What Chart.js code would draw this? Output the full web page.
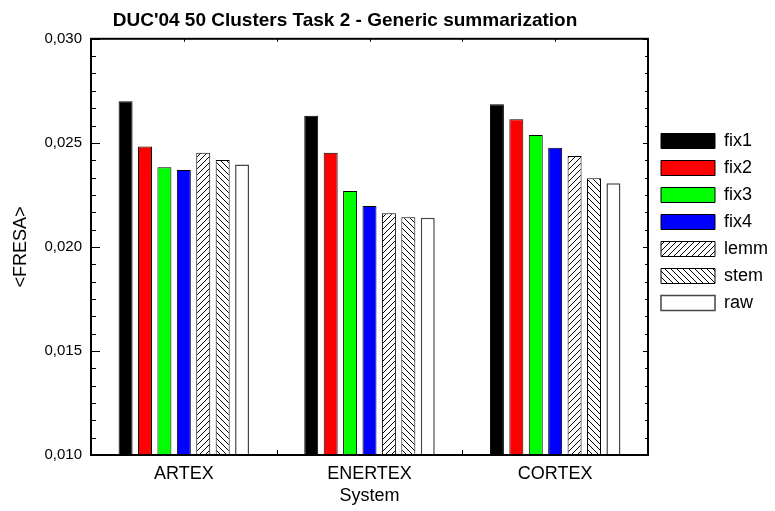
<!DOCTYPE html>
<html>
<head>
<meta charset="utf-8">
<script src="https://cdn.jsdelivr.net/npm/chart.js@4.4.1/dist/chart.umd.min.js"></script>
<style>
  html, body { margin: 0; padding: 0; background: #fff; }
  canvas { display: block; }
</style>
</head>
<body>
<canvas id="fresa-chart" width="775" height="511"></canvas>
<script>
// values
const systems = ["ARTEX", "ENERTEX", "CORTEX"];
const fix1 = [0.02700, 0.02630, 0.02685];
const fix2 = [0.02483, 0.02452, 0.02613];
const fix3 = [0.02383, 0.02269, 0.02538];
const fix4 = [0.02370, 0.02197, 0.02477];
const lemm = [0.02453, 0.02162, 0.02437];
const stem = [0.02418, 0.02143, 0.02330];
const raw  = [0.02396, 0.02140, 0.02306];
const yMin = 0.010, yMax = 0.030, yStep = 0.005;

const FONT = "'Liberation Sans', Arial, sans-serif";

function hatch(dir) {
    const s = 6;
    const c = document.createElement("canvas");
    c.width = s; c.height = s;
    const g = c.getContext("2d");
    g.fillStyle = "#fff";
    g.fillRect(0, 0, s, s);
    g.strokeStyle = "#000";
    g.lineWidth = 1;
    g.beginPath();
    if (dir > 0) {
        g.moveTo(0, s); g.lineTo(s, 0);
        g.moveTo(-1, 1); g.lineTo(1, -1);
        g.moveTo(s - 1, s + 1); g.lineTo(s + 1, s - 1);
    } else {
        g.moveTo(0, 0); g.lineTo(s, s);
        g.moveTo(-1, s - 1); g.lineTo(1, s + 1);
        g.moveTo(s - 1, -1); g.lineTo(s + 1, 1);
    }
    g.stroke();
    return g.createPattern(c, "repeat");
}

// frame with inward ticks, like the original plot
const framePlugin = {
    id: "frame",
    afterDatasetsDraw(chart) {
        const {ctx, chartArea: a} = chart;
        const xs = chart.scales.x, ys = chart.scales.y;
        ctx.save();
        ctx.strokeStyle = "#000";
        ctx.lineWidth = 1;
        ctx.beginPath();
        const n = Math.round((yMax - yMin) / (yStep / 6));
        for (let k = 0; k <= n; k++) {
            const py = Math.round(ys.getPixelForValue(yMin + k * yStep / 6)) + 0.5;
            const major = k % 6 === 0;
            ctx.moveTo(a.left, py); ctx.lineTo(a.left + (major ? 9 : 5), py);
            ctx.moveTo(a.right, py); ctx.lineTo(a.right - (major ? 5 : 3), py);
        }
        for (let i = 0; i <= systems.length; i++) {
            const px = Math.round(xs.getPixelForValue(i - 0.5)) + 0.5;
            ctx.moveTo(px, a.bottom); ctx.lineTo(px, a.bottom - 5);
        }
        for (let i = 0; i <= systems.length * 2; i++) {
            const px = Math.round(xs.getPixelForValue(i / 2 - 0.5)) + 0.5;
            ctx.moveTo(px, a.top); ctx.lineTo(px, a.top + 3);
        }
        ctx.stroke();
        ctx.lineWidth = 2;
        ctx.strokeRect(a.left, a.top, a.right - a.left, a.bottom - a.top);
        ctx.restore();
    },
    afterLayout(chart) {
        const lg = chart.legend;
        const h = lg.bottom - lg.top;
        lg.left = 652;
        lg.right = lg.left + lg.width;
        lg.top = 123;
        lg.bottom = lg.top + h;
        const tb = chart.titleBlock;
        tb.left = 0;
        tb.right = 690;
        tb.width = 690;
    }
};

function initChart() {
    const ctx = document.getElementById("fresa-chart").getContext("2d");
    new Chart(ctx, {
        type: "bar",
        data: {
            labels: systems,
            datasets: [
                { label: "fix1", data: fix1, backgroundColor: "#000000", borderColor: "#000", borderWidth: 1 },
                { label: "fix2", data: fix2, backgroundColor: "#ff0000", borderColor: "#000", borderWidth: 1 },
                { label: "fix3", data: fix3, backgroundColor: "#00ff00", borderColor: "#000", borderWidth: 1 },
                { label: "fix4", data: fix4, backgroundColor: "#0000ff", borderColor: "#000", borderWidth: 1 },
                { label: "lemm", data: lemm, backgroundColor: hatch(1), borderColor: "#000", borderWidth: 1 },
                { label: "stem", data: stem, backgroundColor: hatch(-1), borderColor: "#000", borderWidth: 1 },
                { label: "raw",  data: raw,  backgroundColor: "#ffffff", borderColor: "#444", borderWidth: 1.5 }
            ]
        },
        options: {
            responsive: false,
            animation: false,
            devicePixelRatio: 1,
            categoryPercentage: 0.732,
            barPercentage: 0.72,
            layout: { padding: { left: 0, right: 127, top: 0, bottom: 0 } },
            plugins: {
                title: {
                    display: true,
                    text: "DUC'04 50 Clusters Task 2 - Generic summarization",
                    color: "#000",
                    font: { family: FONT, size: 19, weight: "bold" },
                    padding: { top: 9, bottom: 7 }
                },
                legend: {
                    position: "chartArea",
                    align: "start",
                    labels: {
                        color: "#000",
                        font: { family: FONT, size: 18 },
                        boxWidth: 54,
                        boxHeight: 15,
                        padding: 9
                    }
                },
                tooltip: { enabled: false }
            },
            scales: {
                x: {
                    grid: { display: false, drawTicks: false },
                    border: { display: false },
                    ticks: { color: "#000", font: { family: FONT, size: 18 }, padding: 8 },
                    title: {
                        display: true,
                        text: "System",
                        color: "#000",
                        font: { family: FONT, size: 18 },
                        padding: { top: 5, bottom: 4 }
                    },
                    afterFit(scale) { scale.height = 56; }
                },
                y: {
                    min: yMin,
                    max: yMax,
                    grid: { display: false, drawTicks: false },
                    border: { display: false },
                    ticks: {
                        stepSize: yStep,
                        color: "#000",
                        font: { family: FONT, size: 15 },
                        padding: 9,
                        callback: (v) => v.toFixed(3).replace(".", ",")
                    },
                    title: {
                        display: true,
                        text: "<FRESA>",
                        color: "#000",
                        font: { family: FONT, size: 18 },
                        padding: { top: 10, bottom: 10 }
                    },
                    afterFit(scale) { scale.width = 91; }
                }
            }
        },
        plugins: [framePlugin]
    });
}

initChart();
</script>
</body>
</html>
